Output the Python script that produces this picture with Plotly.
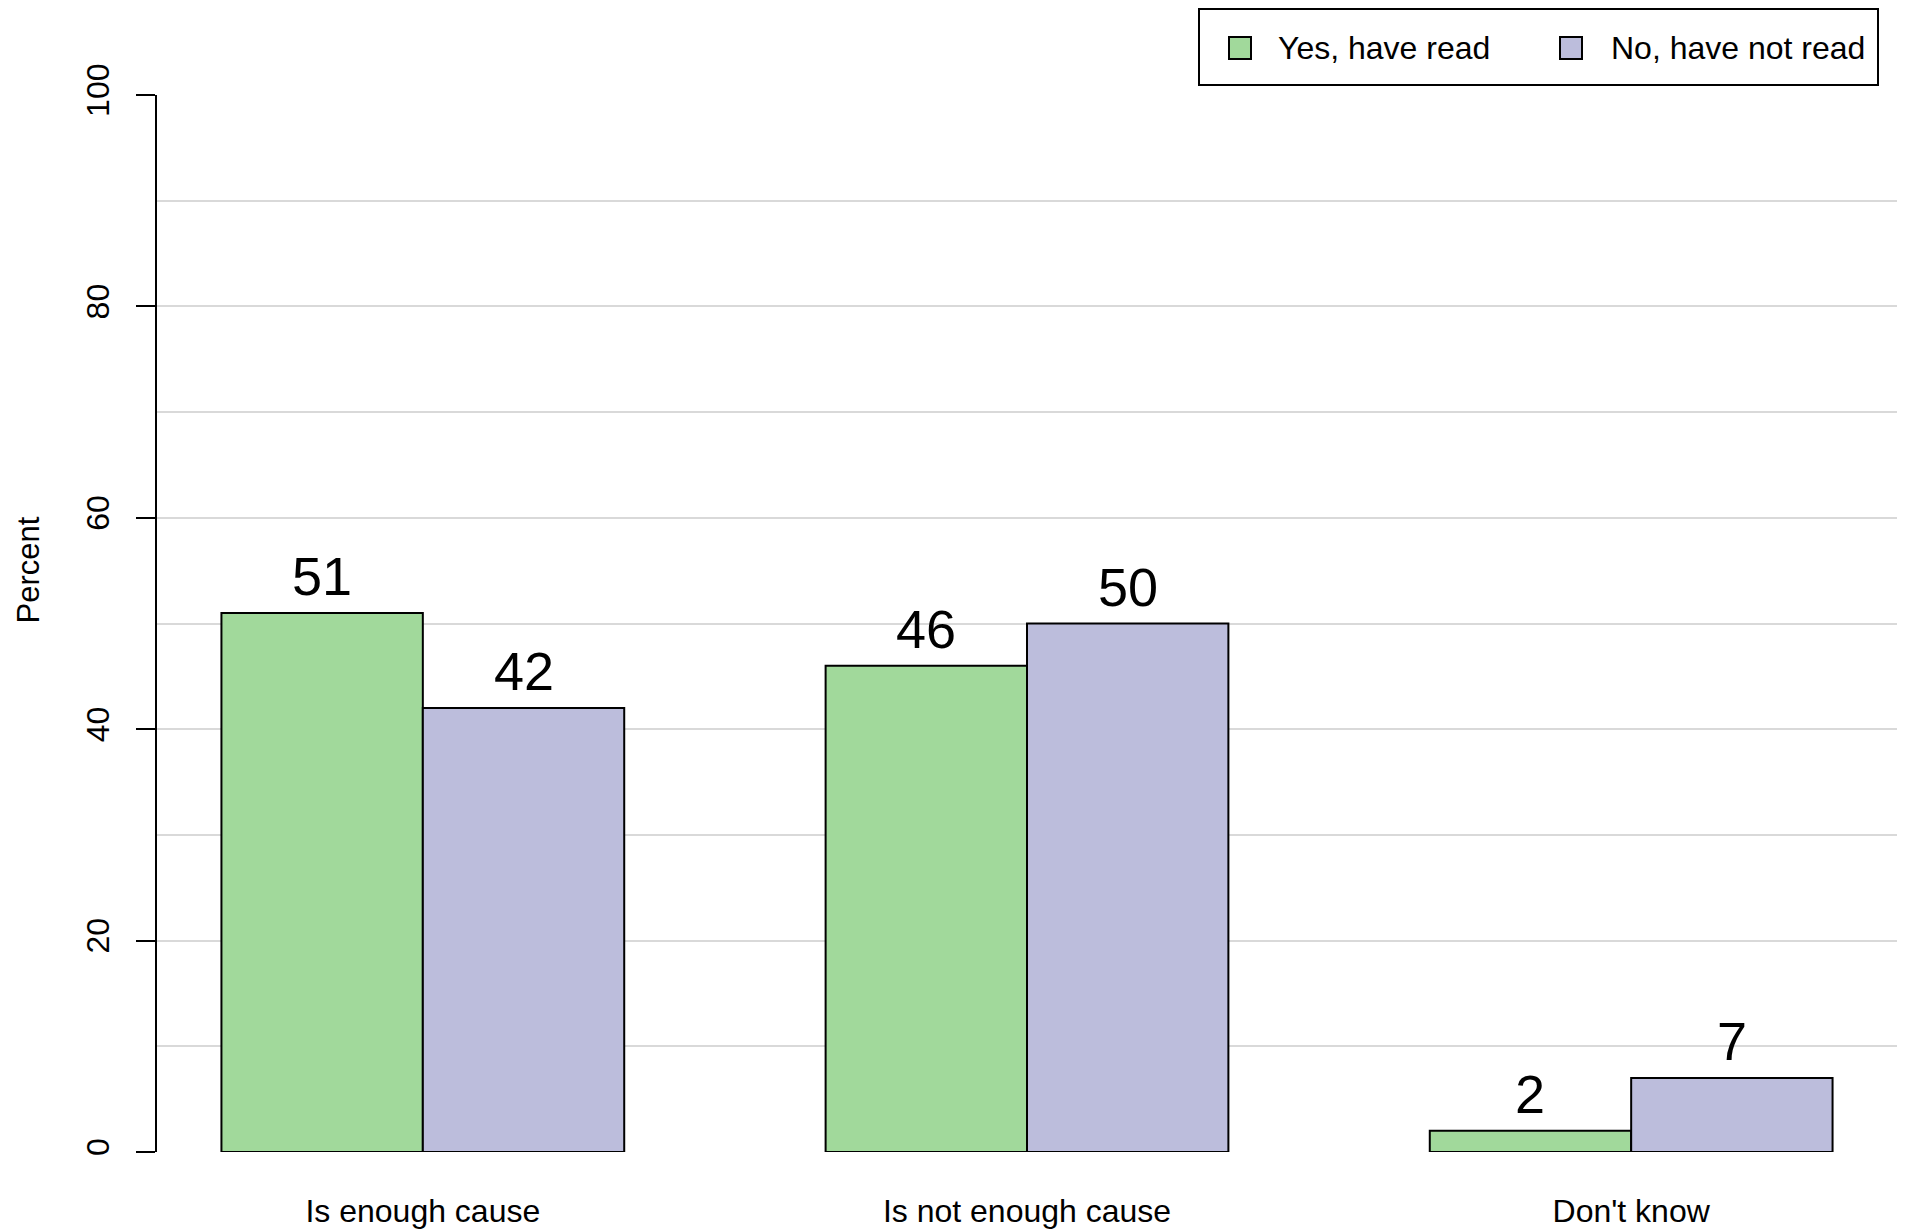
import numpy as np
import plotly.graph_objects as go

# ---------------- data ----------------
categories = ["Is enough cause", "Is not enough cause", "Don't know"]
series_names = ["Yes, have read", "No, have not read"]
yes_read = [51, 46, 2]
no_not_read = [42, 50, 7]
y_ticks = [0, 20, 40, 60, 80, 100]
series_values = [yes_read, no_not_read]
colors = ["#A1D99B", "#BCBDDC"]

# ---------------- layout constants ----------------
W, H = 1905, 1230
OFF = 8  # page body margin: figure origin sits at page (8, 8)
PLOT_L, PLOT_R, PLOT_T, PLOT_B = 157, 1897, 95, 1152  # page pixel positions of plot area
L = PLOT_L - OFF
R = W - (PLOT_R - OFF)
T = PLOT_T - OFF
B = H - (PLOT_B - OFF)
PW, PH = W - L - R, H - T - B
FONT = "Liberation Sans, Arial, Helvetica, sans-serif"


def px_x(px):
    return (px - PLOT_L) / PW


def px_y(py):
    return (PLOT_B - py) / PH


# grouped bar geometry (R barplot style: bar width 1, one empty unit between groups)
n_series = len(series_names)
group_step = n_series + 1
group_centers = np.arange(len(categories)) * group_step + 1 + n_series / 2
offsets = np.arange(n_series) - (n_series - 1) / 2
span_lo = group_centers[0] - n_series / 2
span_hi = group_centers[-1] + n_series / 2
pad = 0.04 * (span_hi - span_lo)

fig = go.Figure()
annotations = []
for i, (name, vals) in enumerate(zip(series_names, series_values)):
    xs = group_centers + offsets[i]
    fig.add_bar(
        x=xs, y=vals, width=1, name=name, showlegend=False,
        marker=dict(color=colors[i], line=dict(color="black", width=2)),
    )
    for xv, v in zip(xs, vals):
        annotations.append(dict(
            x=xv, y=v, xref="x", yref="y", text=str(v), showarrow=False,
            yanchor="bottom", yshift=5,
            font=dict(family=FONT, size=54, color="black"),
        ))

# y axis title
annotations.append(dict(
    x=px_x(OFF), y=px_y(570), xref="paper", yref="paper", text="Percent",
    textangle=-90, showarrow=False, xanchor="left", yanchor="middle",
    font=dict(family=FONT, size=31, color="black"),
))

# manual legend
shapes = [dict(
    type="rect", xref="paper", yref="paper",
    x0=px_x(1199), x1=px_x(1878), y0=px_y(85), y1=px_y(9),
    line=dict(color="black", width=2), fillcolor="white",
)]
legend_sq = [1229, 1560]
legend_tx = [1276, 1609]
for i, name in enumerate(series_names):
    shapes.append(dict(
        type="rect", xref="paper", yref="paper",
        x0=px_x(legend_sq[i]), x1=px_x(legend_sq[i] + 22),
        y0=px_y(59), y1=px_y(37),
        line=dict(color="black", width=2), fillcolor=colors[i],
    ))
    annotations.append(dict(
        x=px_x(legend_tx[i]), y=px_y(48), xref="paper", yref="paper",
        text=name, showarrow=False, xanchor="left", yanchor="middle",
        font=dict(family=FONT, size=32, color="black"),
    ))

fig.update_layout(
    width=W, height=H,
    margin=dict(l=L, r=R, t=T, b=B, pad=0, autoexpand=False),
    paper_bgcolor="white", plot_bgcolor="white",
    barmode="overlay",
    font=dict(family=FONT, size=32, color="black"),
    annotations=annotations, shapes=shapes,
    showlegend=False,
    xaxis=dict(
        range=[span_lo - pad, span_hi + pad],
        tickmode="array", tickvals=group_centers, ticktext=categories,
        showgrid=False, zeroline=False, showline=False, ticks="",
        ticklabelstandoff=37, automargin=False,
        tickfont=dict(family=FONT, size=32, color="black"),
        fixedrange=True,
    ),
    yaxis=dict(
        range=[0, 100],
        tickmode="array", tickvals=y_ticks, tickangle=-90,
        ticks="outside", ticklen=19, tickwidth=2, tickcolor="black",
        ticklabelstandoff=14, automargin=False,
        showline=True, linewidth=2, linecolor="black",
        showgrid=True, gridcolor="#D9D9D9", gridwidth=2,
        minor=dict(tickmode="linear", tick0=0, dtick=10, showgrid=True,
                   gridcolor="#D9D9D9", gridwidth=2, ticks=""),
        zeroline=False,
        tickfont=dict(family=FONT, size=32, color="black"),
        fixedrange=True,
    ),
)

fig.write_html("out.html")
